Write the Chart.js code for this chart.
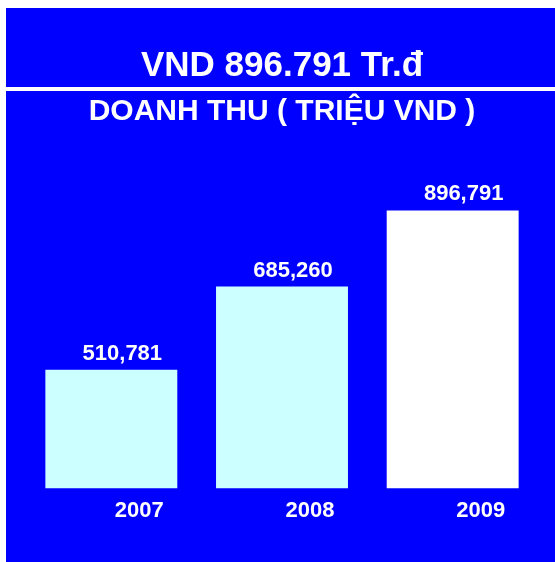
<!DOCTYPE html>
<html>
<head>
<meta charset="utf-8">
<script src="https://cdn.jsdelivr.net/npm/chart.js@4/dist/chart.umd.min.js"></script>
<style>
  html, body { margin: 0; padding: 0; background: #ffffff; }
  #frame { position: absolute; left: 6px; top: 8px; width: 549px; height: 554px; background: #0000ff; }
  #frame canvas { display: block; }
</style>
</head>
<body>
<div id="frame"><canvas id="revChart" width="549" height="554"></canvas></div>
<script>
// data
const years = ['2007', '2008', '2009'];
const revenue = [510781, 685260, 896791];
const barColors = ['#ccffff', '#ccffff', '#ffffff'];
const mainTitle = 'VND 896.791 Tr.đ';
const subTitle = 'DOANH THU ( TRIỆU VND )';

const FONT = '"Liberation Sans", Arial, Helvetica, sans-serif';

// white rule under the big title
const ruleLine = {
    id: 'ruleLine',
    afterDraw(chart) {
        const ctx = chart.ctx;
        const y = chart.titleBlock.bottom;
        ctx.save();
        ctx.fillStyle = '#ffffff';
        ctx.fillRect(0, y, chart.width, 4);
        ctx.restore();
    }
};

// numbers above each bar
const barValues = {
    id: 'barValues',
    afterDatasetsDraw(chart) {
        const ctx = chart.ctx;
        const meta = chart.getDatasetMeta(0);
        ctx.save();
        ctx.fillStyle = '#ffffff';
        ctx.font = 'bold 22px ' + FONT;
        ctx.textAlign = 'center';
        ctx.textBaseline = 'alphabetic';
        meta.data.forEach((bar, i) => {
            const txt = revenue[i].toLocaleString('en-US');
            ctx.fillText(txt, bar.x + 11, bar.y - 10);
        });
        ctx.restore();
    }
};

new Chart(document.getElementById('revChart'), {
    type: 'bar',
    data: {
        labels: years,
        datasets: [{
            data: revenue,
            backgroundColor: barColors,
            borderWidth: 0,
            barPercentage: 0.773,
            categoryPercentage: 1
        }]
    },
    options: {
        responsive: false,
        animation: false,
        events: [],
        layout: { padding: { left: 20, right: 17, top: 0, bottom: 29 } },
        plugins: {
            legend: { display: false },
            tooltip: { enabled: false },
            title: {
                display: true,
                text: mainTitle,
                color: '#ffffff',
                font: { family: FONT, size: 35, weight: 'bold', lineHeight: 1.2 },
                padding: { top: 37, bottom: 0 }
            },
            subtitle: {
                display: true,
                text: subTitle,
                color: '#ffffff',
                font: { family: FONT, size: 30, weight: 'bold', lineHeight: 1.2 },
                padding: { top: 7, bottom: 8 }
            }
        },
        scales: {
            x: {
                grid: { display: false, drawTicks: false },
                border: { display: false },
                ticks: {
                    color: '#ffffff',
                    font: { family: FONT, size: 22, weight: 'bold' },
                    padding: 9,
                    labelOffset: 28,
                    maxRotation: 0
                }
            },
            y: {
                type: 'logarithmic',
                display: false,
                bounds: 'data',
                min: 335600,
                max: 1158600
            }
        }
    },
    plugins: [ruleLine, barValues]
});
</script>
</body>
</html>
